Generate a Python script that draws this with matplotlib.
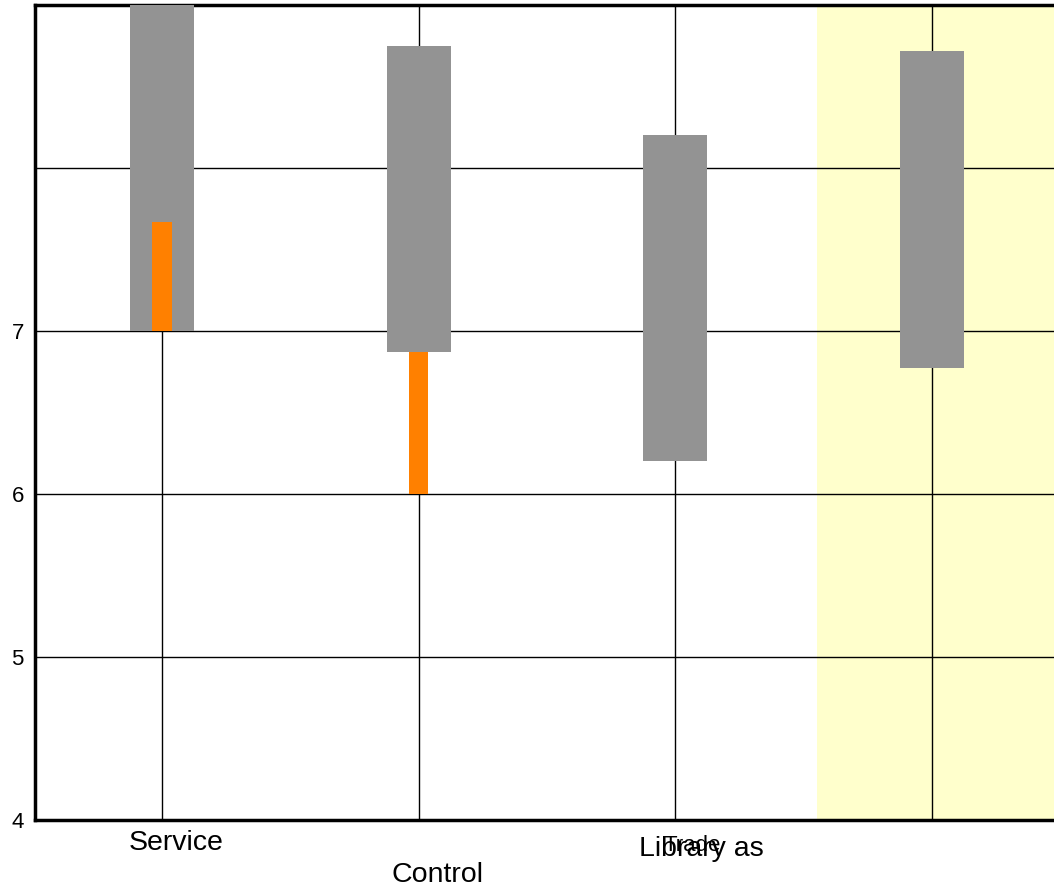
import matplotlib
matplotlib.use('Agg')
import matplotlib.pyplot as plt
from matplotlib.transforms import blended_transform_factory

plt.rcParams['font.family'] = ['Liberation Sans', 'DejaVu Sans']

# data
categories = ['Service', 'Control', 'Library as', 'Trade']
gray_low = [7.0, 6.87, 6.2, 6.77]
gray_high = [9.05, 8.75, 8.2, 8.72]
orange_low = [7.0, 6.0]
orange_high = [7.67, 6.87]
y_ticks = [4, 5, 6, 7, 8, 9]
y_labels = ['4', '5', '6', '7', '', '']

fig = plt.figure(figsize=(10.54, 8.92), dpi=100)
ax = fig.add_axes([35 / 1054, 1 - 820 / 892, 1 - 35 / 1054, (820 - 5) / 892])

x = list(range(len(categories)))
ax.axvspan(2.55, 3.6, color='#ffffcc', zorder=0, lw=0)

ax.bar(x, [h - l for h, l in zip(gray_high, gray_low)], bottom=gray_low,
       width=0.25, color='#939393', zorder=3)
ax.bar(x[:2], [h - l for h, l in zip(orange_high, orange_low)], bottom=orange_low,
       width=0.076, color='#ff8000', zorder=4)

ax.set_xlim(-0.495, 3.475)
ax.set_ylim(4, 9)
ax.set_yticks(y_ticks)
ax.set_yticklabels(y_labels, fontsize=16)
ax.set_xticks(x)
ax.set_xticklabels([])
ax.tick_params(length=0, pad=8)
ax.grid(True, color='black', lw=1, zorder=1)
ax.set_axisbelow(True)

for side in ['left', 'bottom', 'top']:
    ax.spines[side].set_linewidth(2.5)
ax.spines['right'].set_visible(False)

# category labels sit a little right of their ticks, like the original
tr = blended_transform_factory(ax.transData, ax.transAxes)
ax.text(0.053, -0.028, categories[0], transform=tr, ha='center', va='center', fontsize=20.5)
ax.text(1.074, -0.068, categories[1], transform=tr, ha='center', va='center', fontsize=20.5)
ax.text(2.066, -0.031, categories[3], transform=tr, ha='center', va='center', fontsize=16)
ax.text(2.1, -0.036, categories[2], transform=tr, ha='center', va='center', fontsize=20.5)

fig.savefig('out.png', dpi=100)
